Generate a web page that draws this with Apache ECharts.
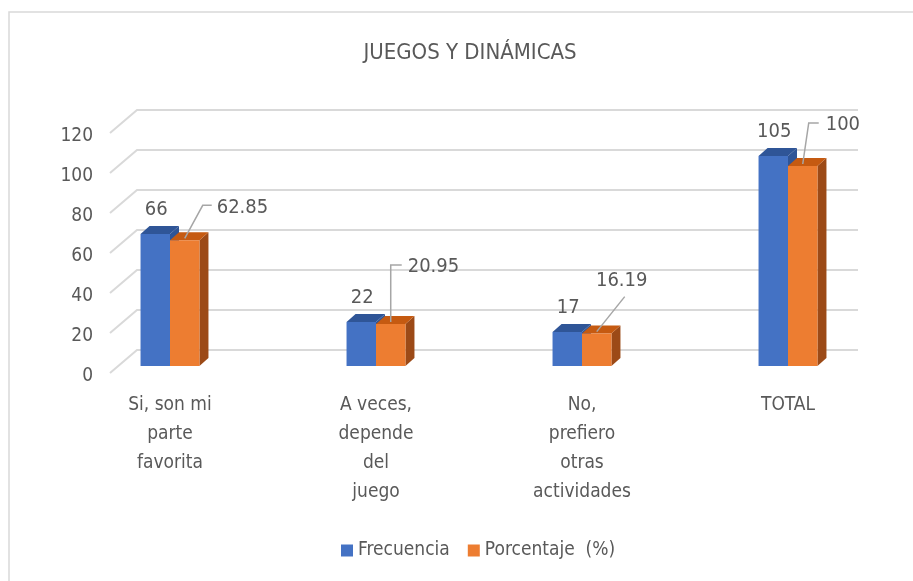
<!DOCTYPE html>
<html>
<head>
<meta charset="utf-8">
<script src="https://cdn.jsdelivr.net/npm/echarts@6/dist/echarts.min.js"></script>
<style>
  html, body { margin: 0; padding: 0; background: #fff; }
  #chart { width: 913px; height: 581px; }
</style>
</head>
<body>
<div id="chart"></div>
<script>
// data
const categories = ["Si, son mi\nparte\nfavorita", "A veces,\ndepende\ndel\njuego", "No,\nprefiero\notras\nactividades", "TOTAL"];
const frecuencia = [66, 22, 17, 105];
const porcentaje = [62.85, 20.95, 16.19, 100];
const yTicks = [0, 20, 40, 60, 80, 100, 120];

const FONT = "'Liberation Sans Narrow', 'DejaVu Sans Condensed', 'Liberation Sans', sans-serif";
const TEXT = "#595959";
const GRID_LINE = "#d9d9d9";

// leader lines for the percentage labels (pixel offsets from the bar top)
const pctLeader = [
  { pts: [[18, -35], [27, -35]], text: [32, -33], align: "left" },
  { pts: [[0, -59], [11, -59]], text: [17, -57], align: "left" },
  { pts: [[28, -37]], text: [25, -53], align: "center" },
  { pts: [[6, -43], [16, -43]], text: [23, -41], align: "left" }
];

const chart = echarts.init(document.getElementById("chart"));

// 3d-ish box: front face, top face, right side face
function box(x0, w, yTop, yBase, colors, z) {
  const dx = 9, dy = -8;
  return [
    { type: "polygon", z2: z, shape: { points: [[x0 + w, yBase], [x0 + w + dx, yBase + dy], [x0 + w + dx, yTop + dy], [x0 + w, yTop]] }, style: { fill: colors[2] } },
    { type: "polygon", z2: z, shape: { points: [[x0, yTop], [x0 + dx, yTop + dy], [x0 + w + dx, yTop + dy], [x0 + w, yTop]] }, style: { fill: colors[1] } },
    { type: "rect", z2: z, shape: { x: x0, y: yTop, width: w, height: yBase - yTop }, style: { fill: colors[0] } }
  ];
}

function barRenderer(side, colors) {
  return function (params, api) {
    const cat = api.value(0);
    const val = api.value(1);
    const base = api.coord([cat, 0]);
    const top = api.coord([cat, val]);
    const w = api.size([1, 0])[0] * 0.143;
    const x0 = side === 0 ? base[0] - w : base[0];
    const children = box(x0, w, top[1], base[1], colors, 1);
    const cx = x0 + w / 2;
    const labelStyle = { fill: TEXT, font: "20px " + FONT, textVerticalAlign: "middle" };
    if (side === 0) {
      children.push({ type: "text", z2: 5, style: Object.assign({ text: String(val), x: cx + 1, y: top[1] - 24, textAlign: "center" }, labelStyle) });
    } else {
      const lay = pctLeader[params.dataIndex];
      const start = [cx, top[1] - 2];
      const pts = [start].concat(lay.pts.map(p => [cx + p[0], top[1] + p[1]]));
      children.push({ type: "polyline", z2: 5, shape: { points: pts }, style: { stroke: "#a6a6a6", lineWidth: 1.5, fill: null } });
      children.push({ type: "text", z2: 5, style: Object.assign({ text: String(val), x: cx + lay.text[0], y: top[1] + lay.text[1], textAlign: lay.align }, labelStyle) });
    }
    return { type: "group", children: children };
  };
}

const option = {
  animation: false,
  title: {
    text: "JUEGOS Y DINÁMICAS",
    left: 465,
    textAlign: "center",
    top: 37,
    textStyle: { fontFamily: FONT, fontSize: 22, fontWeight: "normal", color: TEXT }
  },
  legend: {
    bottom: 16,
    left: 336,
    icon: "rect",
    itemWidth: 12,
    itemHeight: 12,
    itemGap: 18,
    textStyle: { fontFamily: FONT, fontSize: 19, color: TEXT },
    data: ["Frecuencia", "Porcentaje  (%)"]
  },
  graphic: [
    { type: "rect", shape: { x: 9, y: 12, width: 1000, height: 1000 }, style: { fill: null, stroke: "#d9d9d9", lineWidth: 1.5 }, silent: true }
  ],
  grid: [
    { left: 67, right: 22, top: 126, height: 240 },
    { left: 101, width: 10, top: 136, height: 240 }
  ],
  xAxis: [
    {
      type: "category",
      data: categories,
      axisLine: { show: false },
      axisTick: { show: false },
      axisLabel: { interval: 0, margin: 25, fontFamily: FONT, fontSize: 19, lineHeight: 29, color: TEXT }
    },
    { type: "category", gridIndex: 1, show: false, data: ["a"] }
  ],
  yAxis: [
    { type: "value", min: 0, max: 120, interval: 20, show: false },
    {
      type: "value", gridIndex: 1, min: 0, max: 120, interval: 20,
      axisLine: { show: false }, axisTick: { show: false }, splitLine: { show: false },
      axisLabel: { margin: 8, fontFamily: FONT, fontSize: 19, color: TEXT }
    }
  ],
  series: [
    {
      type: "custom",
      name: "walls",
      silent: true,
      z: 0,
      data: yTicks.map(v => [0, v]),
      renderItem: function (params, api) {
        const y = api.coord([0, api.value(1)])[1];
        return {
          type: "polyline",
          shape: { points: [[110, y + 7], [137, y - 16], [858, y - 16]] },
          style: { stroke: GRID_LINE, lineWidth: 2, fill: null }
        };
      }
    },
    {
      type: "custom",
      name: "Frecuencia",
      z: 2,
      itemStyle: { color: "#4472c4" },
      data: frecuencia.map((v, i) => [i, v]),
      renderItem: barRenderer(0, ["#4472c4", "#2f5597", "#2f5597"])
    },
    {
      type: "custom",
      name: "Porcentaje  (%)",
      z: 3,
      itemStyle: { color: "#ed7d31" },
      data: porcentaje.map((v, i) => [i, v]),
      renderItem: barRenderer(1, ["#ed7d31", "#c55a11", "#9c4a17"])
    }
  ]
};

chart.setOption(option);
</script>
</body>
</html>
